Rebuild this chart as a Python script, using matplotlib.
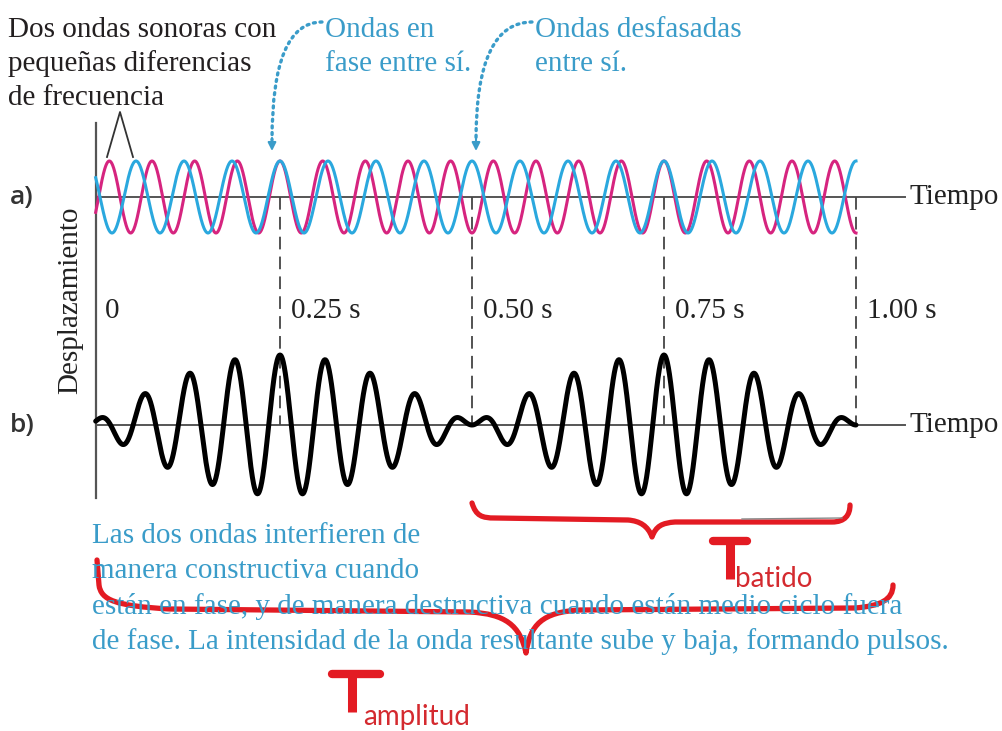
import numpy as np
import matplotlib.pyplot as plt
from matplotlib.path import Path
from matplotlib.patches import PathPatch
from matplotlib.transforms import blended_transform_factory

# valores
f_magenta = 18.0   # Hz
f_cian = 16.0      # Hz
t_en_fase = 0.25   # s, las dos ondas coinciden
t_inicio, t_fin = 0.01, 1.0
marcas_t = [0.0, 0.25, 0.50, 0.75, 1.00]
marcas_txt = ['0', '0.25 s', '0.50 s', '0.75 s', '1.00 s']

# layout (pixeles)
W, H = 1003, 731
T0_PX, T1_PX = 88, 856
BASE_A, BASE_B = 197, 425
AMP_A, AMP_B = 36, 35

MAGENTA = '#d6247f'
CIAN = '#2aa8de'
AZUL_TXT = '#3a9cc9'
ROJO = '#e31b23'
GRIS = '#555555'
SERIF = 'Liberation Serif'
FS = 21

fig = plt.figure(figsize=(W / 100, H / 100), dpi=100)

ax_px = fig.add_axes([0, 0, 1, 1])
ax_px.set_xlim(0, W)
ax_px.set_ylim(H, 0)
ax_px.set_axis_off()


def eje_onda(base, amp):
    ax = fig.add_axes([0, 0, 1, 1])
    span = T1_PX - T0_PX
    ax.set_xlim(-T0_PX / span, (W - T0_PX) / span)
    ax.set_ylim((base - H) / amp, base / amp)
    ax.set_axis_off()
    ax.patch.set_visible(False)
    return ax


ax_a = eje_onda(BASE_A, AMP_A)
ax_b = eje_onda(BASE_B, AMP_B)

t = np.linspace(t_inicio, t_fin, 3000)
y_m = np.cos(2 * np.pi * f_magenta * (t - t_en_fase))
y_c = np.cos(2 * np.pi * f_cian * (t - t_en_fase))

# ejes dibujados
ax_px.plot([96, 96], [123, 498], color=GRIS, lw=1.6)
ax_px.plot([96, 905], [BASE_A, BASE_A], color=GRIS, lw=1.4)
ax_px.plot([96, 905], [BASE_B, BASE_B], color=GRIS, lw=1.4)

# a) las dos ondas
ax_a.plot(t, y_m, color=MAGENTA, lw=2.2)
ax_a.plot(t, y_c, color=CIAN, lw=2.2)

# b) la suma
ax_b.plot(t, y_m + y_c, color='black', lw=3.6, solid_capstyle='round')

# lineas de tiempo punteadas y etiquetas
trans = blended_transform_factory(ax_a.transData, ax_px.transData)
for tt, lbl in zip(marcas_t, marcas_txt):
    if tt > 0:
        ax_px.plot([tt, tt], [BASE_A, BASE_B], transform=trans, color='#444444',
                   lw=1.3, dashes=(7, 4))
    ax_px.annotate(lbl, xy=(tt, 318), xycoords=trans, xytext=(11 if tt > 0 else 17, 0),
                   textcoords='offset pixels', va='baseline', ha='left',
                   family=SERIF, fontsize=FS, color='#222222')

# textos
for y, s in zip([37, 71, 105], ['Dos ondas sonoras con', 'pequeñas diferencias', 'de frecuencia']):
    ax_px.text(8, y, s, family=SERIF, fontsize=FS, color='#231f20', va='baseline')
for y, s in zip([37, 71], ['Ondas en', 'fase entre sí.']):
    ax_px.text(325, y, s, family=SERIF, fontsize=FS, color=AZUL_TXT, va='baseline')
for y, s in zip([37, 71], ['Ondas desfasadas', 'entre sí.']):
    ax_px.text(535, y, s, family=SERIF, fontsize=FS, color=AZUL_TXT, va='baseline')

ax_px.text(910, BASE_A, 'Tiempo', family=SERIF, fontsize=FS, color='#222222', va='center')
ax_px.text(910, BASE_B, 'Tiempo', family=SERIF, fontsize=FS, color='#222222', va='center')
ax_px.text(70, 300, 'Desplazamiento', family=SERIF, fontsize=FS, color='#222222',
           rotation=90, ha='center', va='center')
ax_px.text(10, BASE_A, 'a)', family='Open Sans', fontweight='semibold', fontsize=19,
           color='#333333', va='center')
ax_px.text(10, BASE_B, 'b)', family='Open Sans', fontweight='semibold', fontsize=19,
           color='#333333', va='center')

texto_abajo = ['Las dos ondas interfieren de',
               'manera constructiva cuando',
               'están en fase, y de manera destructiva cuando están medio ciclo fuera',
               'de fase. La intensidad de la onda resultante sube y baja, formando pulsos.']
for y, s in zip([543, 578, 614, 649], texto_abajo):
    ax_px.text(92, y, s, family=SERIF, fontsize=FS, color=AZUL_TXT, va='baseline')

# senalador de las dos ondas
ax_px.plot([107, 120, 133], [157, 112, 157], color='#333333', lw=1.3)

# flechas punteadas
for inicio, fin in [((322, 22), (272, 140)), ((532, 22), (476, 140))]:
    ax_px.annotate('', xy=fin, xytext=inicio,
                   arrowprops=dict(arrowstyle='-', color=AZUL_TXT, lw=2.4,
                                   linestyle=(0, (0.6, 1.4)), capstyle='round',
                                   connectionstyle='angle3,angleA=180,angleB=90',
                                   shrinkA=0, shrinkB=0))
    ax_px.annotate('', xy=(fin[0], fin[1] + 11), xytext=(fin[0], fin[1] - 2),
                   arrowprops=dict(arrowstyle='-|>', color=AZUL_TXT, lw=1.5,
                                   mutation_scale=12, shrinkA=0, shrinkB=0))

# anotaciones a mano (rojo)
def llave(puntos, codigos):
    p = PathPatch(Path(puntos, codigos), fill=False, edgecolor=ROJO, lw=3.8,
                  capstyle='round', joinstyle='round')
    ax_px.add_patch(p)


M, L, C = Path.MOVETO, Path.LINETO, Path.CURVE4
llave([(472, 503), (476, 516), (482, 518), (495, 518), (628, 520),
       (640, 521), (648, 526), (652, 537), (656, 526), (662, 523), (675, 522),
       (832, 522), (845, 522), (850, 515), (850, 505)],
      [M, C, C, C, L, C, C, C, C, C, C, L, C, C, C])
ax_px.plot([742, 842], [519, 518], color='#888888', lw=1.0)

llave([(97, 560), (99, 585), (101, 600), (115, 606), (170, 609), (470, 612),
       (505, 614), (520, 625), (526, 653), (530, 625), (542, 612), (580, 610),
       (855, 608), (880, 606), (893, 600), (893, 585)],
      [M, L, C, C, C, L, C, C, C, C, C, C, L, C, C, C])

for (x0, x1, ytop, xs, ybot) in [(713, 747, 541, 730, 579), (332, 380, 674, 352, 712)]:
    ax_px.plot([x0, x1], [ytop, ytop], color=ROJO, lw=6, solid_capstyle='round')
    ax_px.plot([xs, xs], [ytop, ybot], color=ROJO, lw=6.5, solid_capstyle='butt')
ax_px.text(735, 587, 'batido', family='Lato', fontsize=20, color='#d42a2f', va='baseline')
ax_px.text(363, 725, 'amplitud', family='Lato', fontsize=20, color='#d42a2f', va='baseline')

fig.savefig('out.png', dpi=100)
